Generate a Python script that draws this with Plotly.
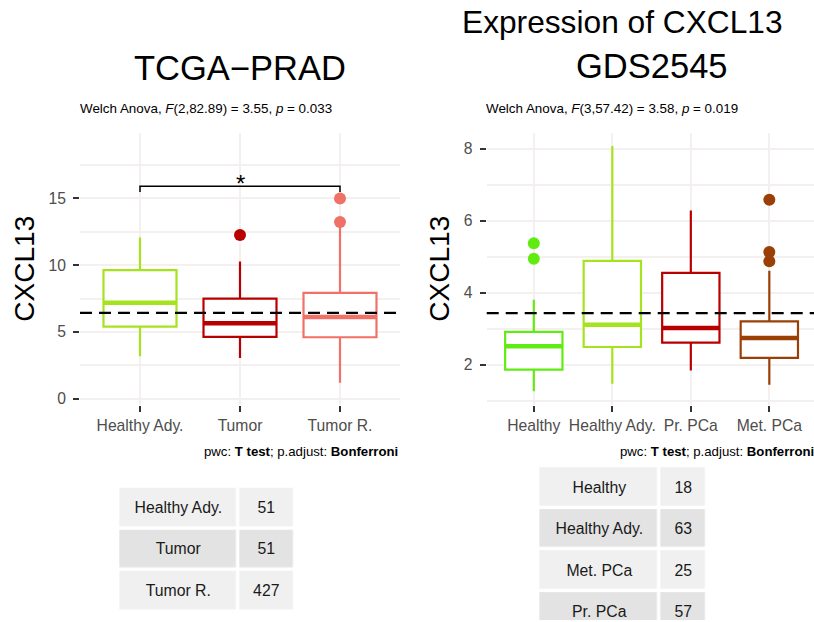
import plotly.graph_objects as go

# ---------------- data ----------------
left_groups = ["Healthy Ady.", "Tumor", "Tumor R."]
left_q1 = [5.40, 4.62, 4.60]
left_median = [7.19, 5.64, 6.12]
left_q3 = [9.63, 7.49, 7.93]
left_lower = [3.18, 3.04, 1.19]
left_upper = [12.07, 10.27, 12.90]
left_outliers = [[], [12.26], [15.0, 13.23]]
left_mean = 6.42
left_colors = ["#A6E31F", "#B80000", "#F07167"]

right_groups = ["Healthy", "Healthy Ady.", "Pr. PCa", "Met. PCa"]
right_q1 = [1.86, 2.49, 2.61, 2.19]
right_median = [2.51, 3.11, 3.02, 2.74]
right_q3 = [2.91, 4.88, 4.55, 3.20]
right_lower = [1.26, 1.47, 1.84, 1.44]
right_upper = [3.80, 8.07, 6.28, 4.61]
right_outliers = [[5.37, 4.94], [], [], [6.58, 5.13, 4.87]]
right_mean = 3.43
right_colors = ["#62EB10", "#A6E31F", "#B80000", "#9A3F06"]

# pairwise comparison shown on the left panel
pwc_pair = (0, 2)
pwc_y = 15.9
pwc_tip = 15.47
pwc_label = "*"

left_table_groups = ["Healthy Ady.", "Tumor", "Tumor R."]
left_table_n = [51, 51, 427]
right_table_groups = ["Healthy", "Healthy Ady.", "Met. PCa", "Pr. PCa"]
right_table_n = [18, 63, 25, 57]

left_title = "TCGA\u2212PRAD"
right_title = "GDS2545"
main_title = "Expression of CXCL13"
left_sub = "Welch Anova, <i>F</i>(2,82.89) = 3.55, <i>p</i> = 0.033"
right_sub = "Welch Anova, <i>F</i>(3,57.42) = 3.58, <i>p</i> = 0.019"
caption = "pwc: <b>T test</b>; p.adjust: <b>Bonferroni</b>"

# ---------------- layout helpers ----------------
W, H = 814, 622
FONT = "Liberation Sans, Arial, sans-serif"
GRID = "#F4F0F0"
TICKTXT = "#4D4D4D"
BOX_W = 0.73


def px_x(p):
    return p / W


def px_y(p):
    return 1 - p / H


fig = go.Figure()


def add_panel(xa, ya, groups, q1, med, q3, lo, hi, outs, colors):
    for i, g in enumerate(groups):
        fig.add_trace(go.Box(
            x=[i], q1=[q1[i]], median=[med[i]], q3=[q3[i]],
            lowerfence=[lo[i]], upperfence=[hi[i]],
            width=BOX_W, whiskerwidth=0, boxpoints=False,
            fillcolor="white", line=dict(color=colors[i], width=2.2),
            xaxis=xa, yaxis=ya, showlegend=False, hoverinfo="skip"))
        # thicker median bar
        fig.add_trace(go.Scatter(
            x=[i - BOX_W / 2, i + BOX_W / 2], y=[med[i], med[i]],
            mode="lines", line=dict(color=colors[i], width=4.5),
            xaxis=xa, yaxis=ya, showlegend=False, hoverinfo="skip"))
        if outs[i]:
            fig.add_trace(go.Scatter(
                x=[i] * len(outs[i]), y=outs[i], mode="markers",
                marker=dict(color=colors[i], size=12),
                xaxis=xa, yaxis=ya, showlegend=False, hoverinfo="skip"))


add_panel("x", "y", left_groups, left_q1, left_median, left_q3,
          left_lower, left_upper, left_outliers, left_colors)
add_panel("x2", "y2", right_groups, right_q1, right_median, right_q3,
          right_lower, right_upper, right_outliers, right_colors)

# comparison bracket
a, b = pwc_pair
fig.add_trace(go.Scatter(
    x=[a, a, b, b], y=[pwc_tip, pwc_y, pwc_y, pwc_tip], mode="lines",
    line=dict(color="black", width=1.5), xaxis="x", yaxis="y",
    showlegend=False, hoverinfo="skip"))


# sample-size tables
def add_table(xa, ya, groups, counts, col_edges):
    text = [[g, str(n)] for g, n in zip(groups, counts)]
    shade = [[i % 2, i % 2] for i in range(len(groups))]
    fig.add_trace(go.Heatmap(
        z=shade, text=text, texttemplate="%{text}",
        textfont=dict(family=FONT, size=15.8, color="#1A1A1A"),
        x=col_edges, y=list(range(len(groups))),
        colorscale=[[0, "#F0F0F0"], [1, "#E3E3E3"]], zmin=0, zmax=1,
        showscale=False, xgap=3.4, ygap=3.4, hoverinfo="skip",
        xaxis=xa, yaxis=ya))


add_table("x3", "y3", left_table_groups, left_table_n, [0, 120.1, 176.8])
add_table("x4", "y4", right_table_groups, right_table_n, [0, 121.0, 169.1])

axis_common = dict(showline=False, zeroline=False, ticks="outside", ticklen=6,
                   tickwidth=2, tickcolor="#333333",
                   tickfont=dict(family=FONT, size=15.7, color=TICKTXT),
                   gridcolor=GRID, gridwidth=2, fixedrange=True)

fig.update_layout(
    width=W, height=H, margin=dict(l=0, r=0, t=0, b=0),
    paper_bgcolor="white", plot_bgcolor="white",
    font=dict(family=FONT),
    xaxis=dict(domain=[px_x(80), px_x(400)], range=[-0.6, 2.6], anchor="y",
               tickmode="array", tickvals=list(range(len(left_groups))),
               ticktext=left_groups, tickangle=0, showgrid=True, **axis_common),
    yaxis=dict(domain=[px_y(406.5), px_y(133)], range=[-0.49, 19.93], anchor="x",
               tickmode="linear", tick0=0, dtick=5, showgrid=True,
               minor=dict(dtick=2.5, tick0=0, showgrid=True, gridcolor=GRID, gridwidth=2),
               ticklabelstandoff=4, **axis_common),
    xaxis2=dict(domain=[px_x(486.7), 1.0], range=[-0.6, 3.569], anchor="y2",
                tickmode="array", tickvals=list(range(len(right_groups))),
                ticktext=right_groups, tickangle=0, showgrid=True, **axis_common),
    yaxis2=dict(domain=[px_y(406.5), px_y(133)], range=[0.874, 8.445], anchor="x2",
                tickmode="linear", tick0=0, dtick=2, showgrid=True,
                minor=dict(dtick=1, tick0=0, showgrid=True, gridcolor=GRID, gridwidth=2),
                ticklabelstandoff=4, **axis_common),
    xaxis3=dict(domain=[px_x(118.3), px_x(295)], range=[0, 176.8], anchor="y3",
                visible=False, fixedrange=True),
    yaxis3=dict(domain=[px_y(613.4), px_y(488.3)], range=[2.5, -0.5], anchor="x3",
                visible=False, fixedrange=True),
    xaxis4=dict(domain=[px_x(538.3), px_x(707.4)], range=[0, 169.1], anchor="y4",
                visible=False, fixedrange=True),
    yaxis4=dict(domain=[0, px_y(467.6)], range=[3.203, -0.5], anchor="x4",
                visible=False, fixedrange=True),
)

# overall mean reference lines
for yref, m in (("y", left_mean), ("y2", right_mean)):
    xr = "x domain" if yref == "y" else "x2 domain"
    fig.add_shape(type="line", xref=xr, yref=yref, x0=0, x1=1, y0=m, y1=m,
                  line=dict(color="black", width=2.3, dash="12px,7px"), layer="above")

ann = []


def text_at(t, x, y, size, color="black", xanchor="center", yanchor="middle", **kw):
    ann.append(dict(text=t, x=px_x(x), y=px_y(y), xref="paper", yref="paper",
                    xanchor=xanchor, yanchor=yanchor, showarrow=False,
                    font=dict(family=FONT, size=size, color=color), **kw))


text_at(left_title, 240, 68, 34.5)
text_at(main_title, 622.5, 22, 31.7)
text_at(right_title, 651.5, 66, 34.5)
text_at(left_sub, 206, 109, 13.4)
text_at(right_sub, 611.5, 109, 13.4)
text_at(caption, 400, 453, 13.2, xanchor="right")
text_at(caption, 816, 453, 13.2, xanchor="right")
text_at("CXCL13", 25, 269.5, 28, textangle=-90)
text_at("CXCL13", 440, 269.5, 28, textangle=-90)

fig.update_layout(annotations=ann)
fig.add_annotation(text=pwc_label, x=(a + b) / 2, y=16.13, xref="x", yref="y",
                   yanchor="middle", showarrow=False,
                   font=dict(family=FONT, size=24, color="black"))

fig.write_html("out.html")
